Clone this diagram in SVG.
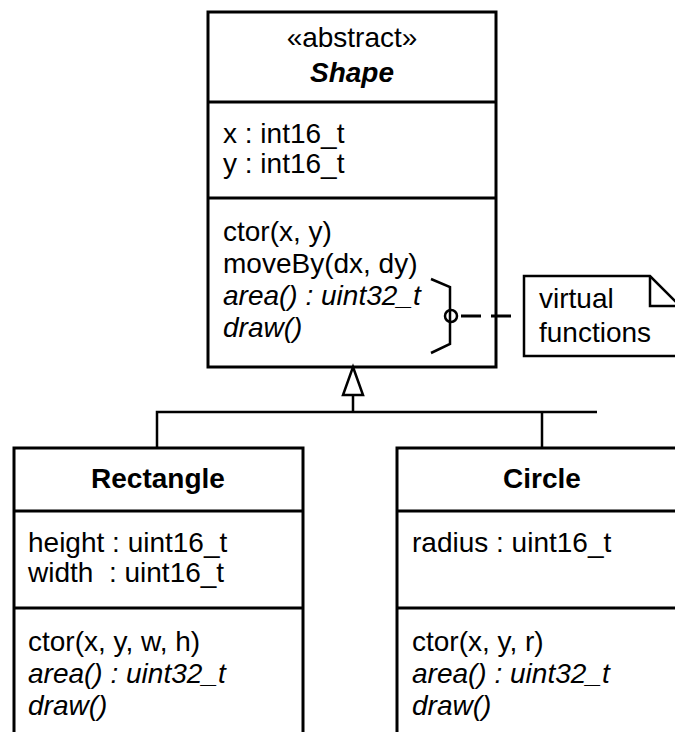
<svg xmlns="http://www.w3.org/2000/svg" width="675" height="732" viewBox="0 0 675 732">
  <style>
    .box { fill: #ffffff; stroke: #000000; stroke-width: 3; }
    .div { stroke: #000000; stroke-width: 3; }
    .t { font-family: "Liberation Sans", Arial, sans-serif; font-size: 28px; fill: #000000; }
    .c { text-anchor: middle; }
    .b { font-weight: bold; }
    .i { font-style: italic; }
    .ln { fill: none; stroke: #000000; stroke-width: 2.5; }
    .dash { fill: none; stroke: #000000; stroke-width: 3; stroke-dasharray: 20 10; }
  </style>
  <rect width="675" height="732" fill="#ffffff"/>

  <g id="shape">
    <rect class="box" x="208" y="12" width="288" height="355"/>
    <line class="div" x1="208" y1="102" x2="496" y2="102"/>
    <line class="div" x1="208" y1="198" x2="496" y2="198"/>
    <text class="t c" x="352" y="47">«abstract»</text>
    <text class="t c b i" x="352" y="82">Shape</text>
    <text class="t" x="223" y="143">x : int16_t</text>
    <text class="t" x="223" y="173">y : int16_t</text>
    <text class="t" x="223" y="241">ctor(x, y)</text>
    <text class="t" x="223" y="273">moveBy(dx, dy)</text>
    <text class="t i" x="223" y="305">area() : uint32_t</text>
    <text class="t i" x="223" y="337">draw()</text>
    <path class="ln" d="M431 279 L450 287 V344 L431 353"/>
    <circle class="ln" cx="451" cy="316" r="6"/>
  </g>

  <g id="note">
    <path class="ln" d="M524 276 H650 L680 306 V356 H524 Z" fill="#ffffff"/>
    <path class="ln" d="M650 276 V306 H680"/>
    <text class="t" x="539" y="308">virtual</text>
    <text class="t" x="539" y="342">functions</text>
  </g>

  <g id="rectangle">
    <rect class="box" x="14" y="448" width="289" height="300"/>
    <line class="div" x1="14" y1="511" x2="303" y2="511"/>
    <line class="div" x1="14" y1="608" x2="303" y2="608"/>
    <text class="t c b" x="158" y="488">Rectangle</text>
    <text class="t" x="28" y="552">height : uint16_t</text>
    <text class="t" x="28" y="582" xml:space="preserve">width  : uint16_t</text>
    <text class="t" x="28" y="651">ctor(x, y, w, h)</text>
    <text class="t i" x="28" y="683">area() : uint32_t</text>
    <text class="t i" x="28" y="715">draw()</text>
  </g>

  <g id="circle">
    <rect class="box" x="397" y="448" width="290" height="300"/>
    <line class="div" x1="397" y1="511" x2="687" y2="511"/>
    <line class="div" x1="397" y1="608" x2="687" y2="608"/>
    <text class="t c b" x="542" y="488">Circle</text>
    <text class="t" x="412" y="552">radius : uint16_t</text>
    <text class="t" x="412" y="651">ctor(x, y, r)</text>
    <text class="t i" x="412" y="683">area() : uint32_t</text>
    <text class="t i" x="412" y="715">draw()</text>
  </g>

  <g id="connectors">
    <path class="ln" d="M157 448 V412 H597 M542 412 V448 M353 412 V395"/>
    <polygon class="ln" points="353,367 363,395 343,395" fill="#ffffff"/>
    <line class="dash" x1="461" y1="316" x2="521" y2="316"/>
  </g>
</svg>
